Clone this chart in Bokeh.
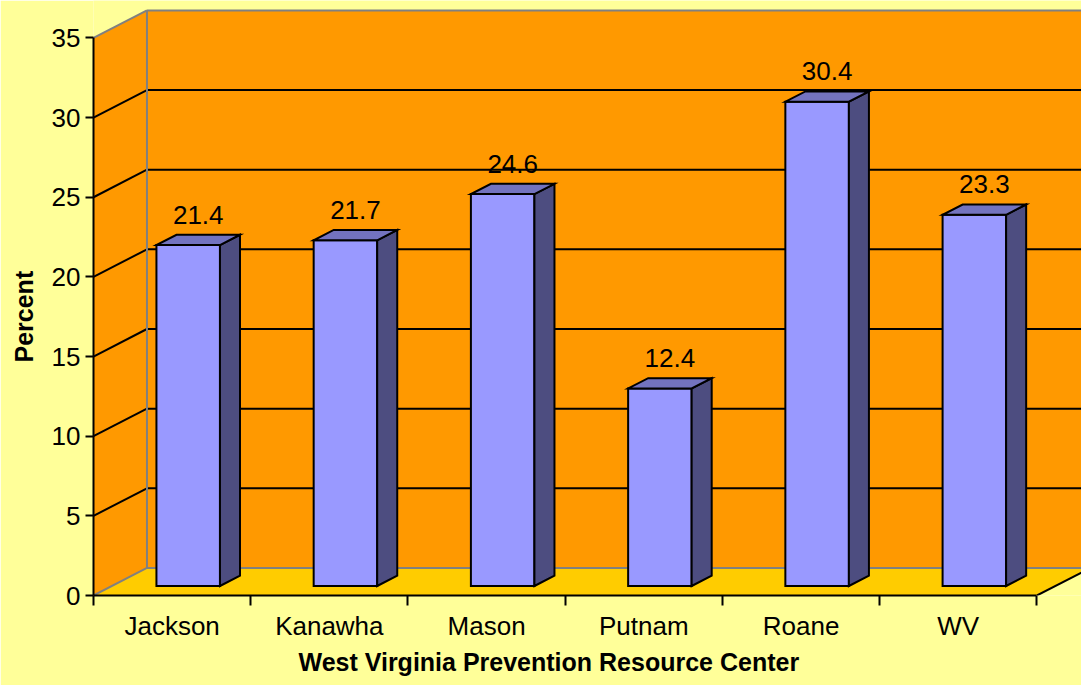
from bokeh.plotting import figure
from bokeh.models import Range1d, FixedTicker, Title, ColumnDataSource
from bokeh.core.properties import value
from bokeh.embed import file_html
from bokeh.resources import INLINE

# ---- data ----
categories = ["Jackson", "Kanawha", "Mason", "Putnam", "Roane", "WV"]
percent = [21.4, 21.7, 24.6, 12.4, 30.4, 23.3]
y_ticks = [0, 5, 10, 15, 20, 25, 30, 35]
y_max = 35
x_title = "West Virginia Prevention Resource Center"
y_title = "Percent"

# ---- style ----
BG = "#FFFF99"
WALL = "#FF9900"
FLOOR = "#FFCC00"
FRONT = "#9999FF"
TOP = "#7373BF"
SIDE = "#4D4D80"
EDGE = "#808080"
FONT = "Liberation Sans"
FS = "26px"
FS_TITLE = "25px"

# oblique projection (depth offset in data units)
DX, DY = 0.34, 1.73
F1, F2 = 0.345, 0.72          # bar front / back depth fraction
BAR_L, BAR_R = 0.283, 0.687   # bar extent within a category slot
LABEL_GAP = 1.27              # value label gap above bar top (data units)

n = len(categories)
W, H = 1081, 685
LEFT, BOTTOM = 93, 90
PX_X, PX_Y = 157.23, 15.93

p = figure(width=W, height=H, output_backend="svg", toolbar_location=None,
           x_range=Range1d(0, (W - LEFT) / PX_X),
           y_range=Range1d(0, (H - BOTTOM) / PX_Y),
           min_border_left=LEFT, min_border_right=0,
           min_border_top=0, min_border_bottom=BOTTOM)
p.background_fill_color = BG
p.border_fill_color = BG
p.outline_line_color = None
p.xgrid.visible = False
p.ygrid.visible = False

# walls and floor
p.patch([0, DX, DX, 0], [0, DY, y_max + DY, y_max], fill_color=WALL, line_color=None)
p.patch([DX, n + DX, n + DX, DX], [DY, DY, y_max + DY, y_max + DY], fill_color=WALL, line_color=None)
p.patch([0, n, n + DX, DX], [0, 0, DY, DY], fill_color=FLOOR, line_color=None)

# gridlines
g = y_ticks[1:-1]
p.segment(x0=[0] * len(g), y0=g, x1=[DX] * len(g), y1=[t + DY for t in g],
          line_color="black", line_width=2)
p.segment(x0=[DX] * len(g), y0=[t + DY for t in g], x1=[n + DX] * len(g),
          y1=[t + DY for t in g], line_color="black", line_width=2)

# wall edges
p.segment(x0=[0, DX, DX, 0, DX], y0=[0, DY, DY, y_max, y_max + DY],
          x1=[DX, n + DX, DX, DX, n + DX], y1=[DY, DY, y_max + DY, y_max + DY, y_max + DY],
          line_color=EDGE, line_width=2)
p.segment(x0=[n], y0=[0], x1=[n + DX], y1=[DY], line_color="black", line_width=2)

# bars
fx, fy, sx, sy, tx, ty = [], [], [], [], [], []
for i, v in enumerate(percent):
    xl, xr = i + BAR_L, i + BAR_R
    a1, b1 = F1 * DX, F1 * DY
    a2, b2 = F2 * DX, F2 * DY
    fx.append([xl + a1, xr + a1, xr + a1, xl + a1])
    fy.append([b1, b1, v + b1, v + b1])
    sx.append([xr + a1, xr + a2, xr + a2, xr + a1])
    sy.append([b1, b2, v + b2, v + b1])
    tx.append([xl + a1, xr + a1, xr + a2, xl + a2])
    ty.append([v + b1, v + b1, v + b2, v + b2])
p.patches(fx, fy, fill_color=FRONT, line_color="black", line_width=2, line_join="miter")
p.patches(sx, sy, fill_color=SIDE, line_color="black", line_width=2, line_join="miter")
p.patches(tx, ty, fill_color=TOP, line_color="black", line_width=2, line_join="miter")

# value labels
src = ColumnDataSource(dict(
    x=[i + (BAR_L + BAR_R) / 2 + DX * (F1 + F2) / 2 for i in range(n)],
    y=[v + F2 * DY + LABEL_GAP for v in percent],
    t=["%.1f" % v for v in percent]))
p.text(x="x", y="y", text="t", source=src, text_align="center",
       text_baseline="alphabetic", text_color="black",
       text_font=value(FONT), text_font_size=FS)

# axes
xa = p.xaxis[0]
xa.ticker = FixedTicker(ticks=[i + 0.5 for i in range(n)], minor_ticks=list(range(n + 1)))
xa.major_label_overrides = {i + 0.5: c for i, c in enumerate(categories)}
xa.bounds = (0, n)
xa.major_tick_out = 0
xa.major_tick_in = 0
xa.minor_tick_out = 10
xa.minor_tick_in = 0
xa.minor_tick_line_width = 2
xa.minor_tick_line_color = "black"
xa.axis_line_width = 2
xa.axis_line_color = "black"
xa.major_label_standoff = 5
xa.major_label_text_font = FONT
xa.major_label_text_font_size = FS
xa.major_label_text_color = "black"

ya = p.yaxis[0]
ya.ticker = FixedTicker(ticks=y_ticks, minor_ticks=[])
ya.bounds = (0, y_max)
ya.major_tick_out = 8
ya.major_tick_in = 0
ya.major_tick_line_width = 2
ya.major_tick_line_color = "black"
ya.axis_line_width = 2
ya.axis_line_color = "black"
ya.major_label_standoff = 5
ya.major_label_text_font = FONT
ya.major_label_text_font_size = FS
ya.major_label_text_color = "black"

# axis titles
p.add_layout(Title(text=y_title, align="left", offset=233, standoff=18,
                   vertical_align="top",
                   text_font=FONT, text_font_size=FS_TITLE, text_font_style="bold",
                   text_color="black"), "left")
p.add_layout(Title(text=x_title, align="left", offset=205, standoff=4,
                   text_font=FONT, text_font_size=FS_TITLE, text_font_style="bold",
                   text_color="black"), "below")

open("out.html", "w").write(file_html(p, INLINE))
